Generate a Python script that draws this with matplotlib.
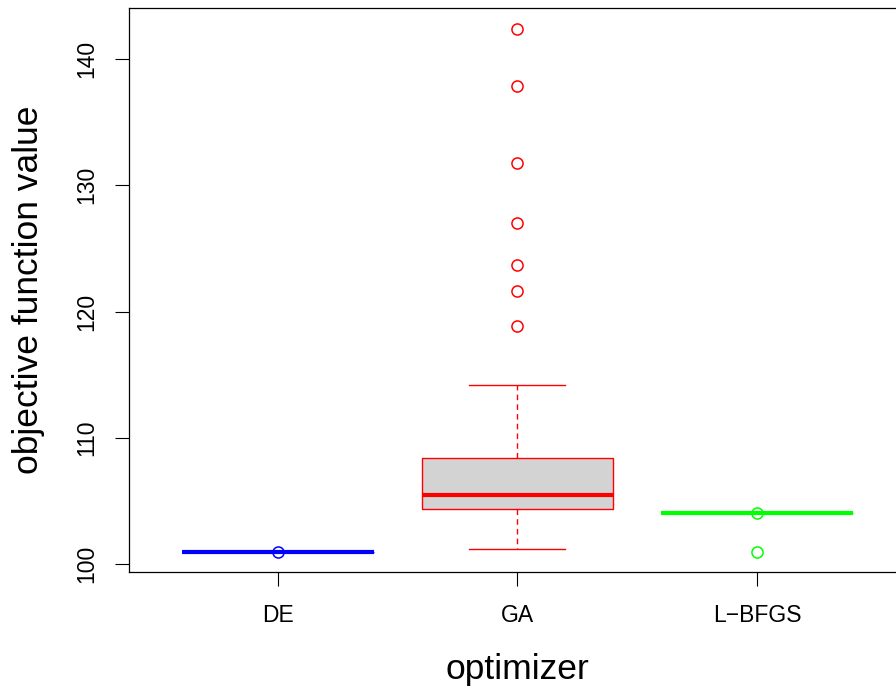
import numpy as np
import matplotlib
matplotlib.use("Agg")
import matplotlib.pyplot as plt

plt.rcParams['font.family'] = ['Liberation Sans', 'DejaVu Sans']

# summary of each optimizer's runs
optimizers = ['DE', 'GA', 'L\u2212BFGS']
colors = ['blue', 'red', '#00FF00']
fills = ['#D3D3D3', '#D3D3D3', '#D3D3D3']
medians = [101.0, 105.5, 104.05]
q1 = [101.0, 104.4, 104.05]
q3 = [101.0, 108.4, 104.05]
whis_lo = [101.0, 101.2, 104.05]
whis_hi = [101.0, 114.2, 104.05]
fliers = [
    [101.0],
    [118.9, 121.6, 123.7, 127.0, 131.8, 137.9, 142.4],
    [104.05, 101.0],
]

fig = plt.figure(figsize=(8.96, 6.93), dpi=100)
ax = fig.add_axes([0.144, 0.1746, 0.867, 0.8139])

for i, name in enumerate(optimizers):
    st = [dict(med=medians[i], q1=q1[i], q3=q3[i], whislo=whis_lo[i],
               whishi=whis_hi[i], fliers=fliers[i], label=name)]
    c = colors[i]
    ax.bxp(st, positions=[i + 1], widths=0.8, patch_artist=True,
           boxprops=dict(facecolor=fills[i], edgecolor=c, linewidth=1.0),
           medianprops=dict(color=c, linewidth=3.0, solid_capstyle='butt'),
           whiskerprops=dict(color=c, linewidth=1.0, linestyle=(0, (4, 3))),
           capprops=dict(color=c, linewidth=1.0),
           capwidths=0.4,
           flierprops=dict(marker='o', markerfacecolor='none',
                           markeredgecolor=c, markersize=8.0,
                           markeredgewidth=1.1, linestyle='none'))

ax.set_xlim(0.38, 3.62)
ax.set_ylim(99.38, 144.05)
ax.set_yticks([100, 110, 120, 130, 140])
ax.set_xticks([1, 2, 3])
ax.set_xticklabels(optimizers)
ax.tick_params(axis='both', length=10, width=0.8, labelsize=16.5)
ax.tick_params(axis='x', pad=13)
ax.tick_params(axis='y', pad=12)
for lab in ax.get_yticklabels():
    lab.set_rotation(90)
    lab.set_va('center')
for sp in ax.spines.values():
    sp.set_linewidth(0.9)

ax.set_xlabel('optimizer', fontsize=25.5, labelpad=19)
ax.set_ylabel('objective function value', fontsize=25.5, labelpad=22)

fig.savefig('out.png', dpi=100)
